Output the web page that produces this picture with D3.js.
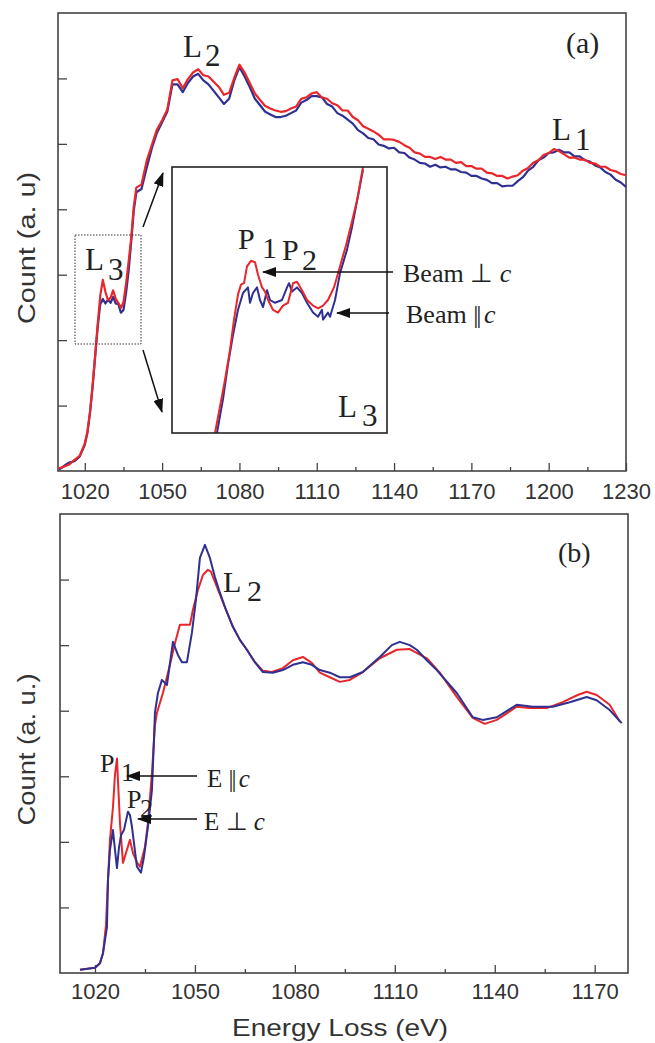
<!DOCTYPE html>
<html>
<head>
<meta charset="utf-8">
<script src="https://cdn.jsdelivr.net/npm/d3@7"></script>
<style>
  body { margin: 0; background: #fff; }
  svg text { fill: #222; }
</style>
</head>
<body>
<div id="container"></div>
<script>
// Panel (a): Ni L-edge, noisy spectra, beam perpendicular (red) / parallel (blue)
const eTop = [1010,1012,1014,1016,1018,1020,1021,1022,1023,1024,1025,1026,1027,1028,1029,1030,1031,1032,1033,1034,1035,1036,1037,1038,1039,1040,
  1042,1044,1046,1048,1050,1052,1054,1056,1058,1060,1062,1064,1066,1068,1070,1072,1074,1076,1078,1080,1082,1084,1086,1088,1090,
  1092,1094,1096,1098,1100,1102,1104,1106,1108,1110,1112,1114,1116,1118,1120,1122,1124,1126,1128,1130,1132,1134,1136,1138,1140,
  1142,1144,1146,1148,1150,1152,1154,1156,1158,1160,1162,1164,1166,1168,1170,1172,1174,1176,1178,1180,1182,1184,1186,1188,1190,
  1192,1194,1196,1198,1200,1202,1204,1206,1208,1210,1212,1214,1216,1218,1220,1222,1224,1226,1228,1230];
const redTop = [0.04,0.07,0.10,0.17,0.23,0.42,0.60,0.90,1.30,1.76,2.24,2.68,2.92,2.74,2.61,2.65,2.76,2.63,2.57,2.49,2.58,2.86,3.20,3.56,4.04,4.33,
  4.38,4.74,4.98,5.22,5.36,5.52,5.97,5.99,5.85,5.99,6.09,6.14,6.05,6.03,5.95,5.87,5.75,5.78,6.01,6.21,6.09,5.93,5.77,5.67,5.58,
  5.54,5.51,5.49,5.50,5.54,5.57,5.69,5.71,5.77,5.79,5.71,5.69,5.62,5.59,5.51,5.51,5.41,5.36,5.27,5.23,5.19,5.14,5.07,5.07,5.06,
  5.03,4.98,4.94,4.87,4.85,4.80,4.80,4.77,4.80,4.76,4.76,4.71,4.72,4.66,4.66,4.62,4.62,4.56,4.55,4.51,4.51,4.47,4.50,4.52,4.59,
  4.63,4.71,4.75,4.83,4.86,4.92,4.89,4.84,4.79,4.79,4.76,4.76,4.71,4.70,4.65,4.65,4.60,4.58,4.54,4.52];
const blueTop = [0.02,0.08,0.13,0.15,0.22,0.40,0.58,0.88,1.27,1.74,2.20,2.55,2.63,2.56,2.62,2.57,2.66,2.56,2.55,2.42,2.46,2.72,3.06,3.50,3.98,4.26,
  4.31,4.63,4.93,5.17,5.33,5.49,5.91,5.91,5.79,5.93,6.03,6.07,5.97,5.91,5.81,5.71,5.61,5.69,5.97,6.17,6.03,5.87,5.69,5.59,5.49,
  5.45,5.41,5.41,5.43,5.47,5.51,5.63,5.67,5.73,5.73,5.71,5.61,5.57,5.47,5.43,5.37,5.31,5.21,5.16,5.09,5.07,4.99,4.97,4.93,4.94,
  4.87,4.86,4.79,4.76,4.71,4.70,4.65,4.68,4.64,4.65,4.61,4.61,4.57,4.56,4.51,4.51,4.47,4.45,4.40,4.40,4.35,4.36,4.36,4.43,4.49,
  4.59,4.65,4.75,4.79,4.86,4.87,4.91,4.87,4.87,4.81,4.81,4.75,4.73,4.67,4.64,4.57,4.53,4.45,4.41,4.34];

// Inset: zoom on the L3 edge
const eInsetRed = [1022.80,1023.36,1023.92,1024.47,1024.92,1025.37,1025.70,1026.04,1026.37,1026.82,1027.27,1027.60,1028.05,1028.38,1028.72,
  1029.27,1029.83,1030.39,1030.95,1031.51,1031.95,1032.51,1033.07,1033.74,1034.30,1034.86,1035.41,1036.08,1036.75,1037.42,1038.09,1038.65,1039.32];
const insetRed = [1.90,2.09,2.28,2.49,2.71,2.89,2.96,2.97,3.09,3.13,3.12,3.03,2.94,2.91,2.85,
  2.78,2.76,2.81,2.83,2.97,2.98,2.92,2.85,2.81,2.79,2.81,2.85,2.94,3.09,3.24,3.41,3.56,3.80];
const eInsetBlue = [1023.02,1023.69,1024.25,1024.81,1025.37,1025.93,1026.48,1026.71,1027.04,1027.49,1027.82,1028.16,1028.61,1028.94,1029.50,
  1030.28,1030.84,1031.06,1031.40,1031.95,1032.51,1033.07,1033.74,1034.30,1034.74,1034.86,1035.41,1035.64,1036.20,1036.75,1037.54,1038.09,1038.76,1039.32];
const insetBlue = [1.90,2.14,2.39,2.60,2.78,2.90,2.94,2.83,2.90,2.94,2.85,2.80,2.92,2.85,2.83,
  2.85,2.94,2.97,2.91,2.94,2.90,2.83,2.76,2.73,2.78,2.71,2.76,2.73,2.85,3.04,3.21,3.37,3.59,3.78];

// Panel (b): calculated spectra, E || c (red) / E perp c (blue)
const eRedB = [1015.5,1020,1021.5,1022.4,1023.3,1023.9,1024.5,1025.4,1026,1026.6,1026.9,1027.5,1028.4,1029.6,1030.5,1031.4,1032.6,1033.5,
  1035,1035.9,1037.1,1038,1038.6,1040.4,1042.5,1044,1045.5,1048.5,1049.4,1050.9,1052.4,1053.9,1054.8,1056.6,1059,1061.4,1063.5,1065.6,
  1068,1070.4,1073.1,1076.4,1079.4,1082.4,1085.1,1087.5,1090.5,1093.5,1096.5,1100.4,1105.5,1110.6,1114.5,1119.6,1123.5,1128.6,1133.4,
  1137,1140.6,1146.6,1150.5,1155.6,1160.4,1164.9,1167.6,1170.6,1174.5,1177.5];
const redB = [0.05,0.08,0.15,0.30,0.73,1.42,2.03,2.53,3.02,3.27,2.94,2.29,1.68,1.88,2.03,1.83,1.69,1.62,
  1.92,2.29,3.05,3.78,3.97,4.27,4.70,5.03,5.31,5.31,5.54,5.84,6.07,6.15,6.12,5.89,5.58,5.28,5.08,4.93,
  4.74,4.61,4.59,4.65,4.77,4.82,4.73,4.58,4.51,4.44,4.47,4.59,4.80,4.93,4.94,4.80,4.58,4.21,3.89,
  3.80,3.86,4.06,4.04,4.04,4.13,4.24,4.29,4.24,4.09,3.84];
const eBlueB = [1015.5,1020,1021.5,1022.4,1023.6,1023.9,1024.5,1025.4,1026,1026.6,1027.2,1027.8,1028.7,1029.9,1030.5,1031.1,1032.6,1033.8,
  1034.7,1035.9,1037.1,1037.7,1038,1038.9,1040.1,1041.6,1043.4,1044.9,1046.1,1047.6,1049.1,1050.3,1051.5,1053,1054.5,1056,1057.5,1059.3,
  1061.4,1063.5,1065.6,1068,1070.4,1073.4,1076.4,1079.4,1082.4,1085.1,1087.5,1090.5,1093.5,1096.5,1100.4,1105.5,1109.1,1111.5,1114.5,
  1116.6,1119.6,1122.6,1128.6,1133.4,1136.4,1140.6,1146.6,1151.4,1157.4,1162.5,1167.6,1170.6,1174.5,1178.1];
const blueB = [0.05,0.08,0.15,0.30,0.70,1.42,1.88,2.18,1.88,1.60,1.91,2.10,2.18,2.46,2.41,2.23,1.62,1.53,
  1.77,2.23,2.79,3.55,3.97,4.27,4.47,4.39,5.05,4.85,4.74,4.74,5.19,5.69,6.33,6.53,6.33,6.04,5.80,5.54,
  5.28,5.08,4.93,4.74,4.59,4.58,4.62,4.70,4.74,4.70,4.62,4.58,4.51,4.51,4.59,4.82,5.00,5.05,5.00,
  4.93,4.77,4.62,4.27,3.90,3.86,3.90,4.09,4.06,4.06,4.13,4.21,4.16,4.01,3.81];

const majorTop = [1020,1050,1080,1110,1140,1170,1200,1230];
const minorTop = [1035,1065,1095,1125,1155,1185,1215];
const majorBot = [1020,1050,1080,1110,1140,1170];
const minorBot = [1035,1065,1095,1125,1155];
const yTicks = [1,2,3,4,5,6];

const RED = "#e8262b";
const BLUE = "#2e3191";
const SANS = "'Liberation Sans', Arial, Helvetica, sans-serif";
const SERIF = "'Liberation Serif', 'Times New Roman', serif";

const width = 655, height = 1043;
const svg = d3.create("svg").attr("width", width).attr("height", height);

const defs = svg.append("defs");
defs.append("marker")
  .attr("id", "head")
  .attr("markerUnits", "userSpaceOnUse")
  .attr("markerWidth", 14).attr("markerHeight", 10)
  .attr("refX", 13).attr("refY", 5)
  .attr("orient", "auto")
  .append("path").attr("d", "M0,0 L14,5 L0,10 Z").attr("fill", "#111");

function panel(box, xDomain, majors, minors, labelPad, yLabel) {
  const x = d3.scaleLinear().domain(xDomain).range([box.left, box.right]);
  const y = d3.scaleLinear().domain([0, 7]).range([box.bottom, box.top]);
  const g = svg.append("g");

  g.append("g").attr("transform", `translate(0,${box.bottom})`)
    .call(d3.axisBottom(x).tickValues(minors).tickSizeInner(-4).tickSizeOuter(0).tickFormat(""));
  const ax = g.append("g").attr("transform", `translate(0,${box.bottom})`)
    .call(d3.axisBottom(x).tickValues(majors)
      .tickSizeInner(-8).tickSizeOuter(0).tickPadding(labelPad).tickFormat(d3.format("d")));
  ax.selectAll("text").attr("font-family", SANS).attr("font-size", 22).style("fill", "#333");
  g.append("g").attr("transform", `translate(${box.left},0)`)
    .call(d3.axisLeft(y).tickValues(yTicks).tickSizeInner(-9).tickSizeOuter(0).tickFormat(""));
  g.selectAll(".domain").remove();
  g.selectAll(".tick line").attr("stroke", "#444").attr("stroke-width", 1.3);

  g.append("rect")
    .attr("x", box.left).attr("y", box.top)
    .attr("width", box.right - box.left).attr("height", box.bottom - box.top)
    .attr("fill", "none").attr("stroke", "#444").attr("stroke-width", 1.6);

  g.append("text")
    .attr("transform", `translate(35,${(box.top + box.bottom) / 2 + 6}) rotate(-90)`)
    .attr("text-anchor", "middle")
    .attr("font-family", SANS).attr("font-size", 23)
    .attr("textLength", 152).attr("lengthAdjust", "spacingAndGlyphs")
    .style("fill", "#333")
    .text(yLabel);
  return { x, y, g };
}

function drawLine(g, x, y, es, vs, color, w) {
  const pts = es.map((e, i) => [e, vs[i]]);
  g.append("path").datum(pts)
    .attr("fill", "none").attr("stroke", color).attr("stroke-width", w)
    .attr("stroke-linejoin", "round")
    .attr("d", d3.line().x(d => x(d[0])).y(d => y(d[1])));
}

function label(x, y, txt, size, sub, sx, sy) {
  const t = svg.append("text").attr("x", x).attr("y", y)
    .attr("font-family", SERIF).attr("font-size", size).text(txt);
  if (sub) {
    svg.append("text").attr("x", sx).attr("y", sy)
      .attr("font-family", SERIF).attr("font-size", size).text(sub);
  }
  return t;
}

function arrow(x1, y1, x2, y2) {
  svg.append("line").attr("x1", x1).attr("y1", y1).attr("x2", x2).attr("y2", y2)
    .attr("stroke", "#111").attr("stroke-width", 1.5).attr("marker-end", "url(#head)");
}

// ---- panel (a)
const pa = panel({ left: 58, right: 626, top: 13, bottom: 471 }, [1009.6, 1230], majorTop, minorTop, 12, "Count (a. u)");
drawLine(pa.g, pa.x, pa.y, eTop, blueTop, BLUE, 2.2);
drawLine(pa.g, pa.x, pa.y, eTop, redTop, RED, 2.2);

// dotted box marking the zoomed region
svg.append("rect").attr("x", 75).attr("y", 235).attr("width", 66).attr("height", 109)
  .attr("fill", "none").attr("stroke", "#333").attr("stroke-width", 1).attr("stroke-dasharray", "1.5,1.5");
arrow(143, 227, 163, 173);
arrow(143, 350, 162, 412);

// inset
const inBox = { left: 172, right: 387, top: 167, bottom: 433 };
svg.append("rect").attr("x", inBox.left).attr("y", inBox.top)
  .attr("width", inBox.right - inBox.left).attr("height", inBox.bottom - inBox.top)
  .attr("fill", "#fff");
defs.append("clipPath").attr("id", "inclip").append("rect")
  .attr("x", inBox.left).attr("y", inBox.top)
  .attr("width", inBox.right - inBox.left).attr("height", inBox.bottom - inBox.top);
const ix = d3.scaleLinear().domain([1018, 1042]).range([inBox.left, inBox.right]);
const iy = d3.scaleLinear().domain([1.9, 3.8]).range([inBox.bottom, inBox.top]);
const inG = svg.append("g").attr("clip-path", "url(#inclip)");
drawLine(inG, ix, iy, eInsetBlue, insetBlue, BLUE, 2);
drawLine(inG, ix, iy, eInsetRed, insetRed, RED, 2);
svg.append("rect").attr("x", inBox.left).attr("y", inBox.top)
  .attr("width", inBox.right - inBox.left).attr("height", inBox.bottom - inBox.top)
  .attr("fill", "none").attr("stroke", "#222").attr("stroke-width", 1.6);

label(183, 57, "L", 31, "2", 205, 66);
label(552, 140, "L", 31, "1", 575, 150);
label(85, 270, "L", 31, "3", 108, 280);
label(566, 53, "(a)", 30);
label(238, 249, "P", 30, "1", 262, 258);
label(282, 260, "P", 30, "2", 302, 270);
label(338, 417, "L", 31, "3", 362, 426);

const bp = label(403, 282, "Beam \u22A5 ", 26);
bp.append("tspan").attr("font-style", "italic").text("c");
const bl = label(406, 323, "Beam ", 26);
bl.append("tspan").attr("letter-spacing", -2).text("|| ");
bl.append("tspan").attr("font-style", "italic").text("c");
arrow(393, 272, 263, 272);
arrow(389, 313, 337, 313);

// ---- panel (b)
const pb = panel({ left: 60, right: 628, top: 514, bottom: 973 }, [1009.5, 1180], majorBot, minorBot, 10, "Count (a. u.)");
drawLine(pb.g, pb.x, pb.y, eRedB, redB, RED, 2);
drawLine(pb.g, pb.x, pb.y, eBlueB, blueB, BLUE, 2);

svg.append("text").attr("x", 340).attr("y", 1036)
  .attr("text-anchor", "middle")
  .attr("font-family", SANS).attr("font-size", 24)
  .attr("textLength", 216).attr("lengthAdjust", "spacingAndGlyphs")
  .style("fill", "#333")
  .text("Energy Loss (eV)");

label(558, 562, "(b)", 28);
label(223, 592, "L", 30, "2", 247, 601);
label(100, 772, "P", 26, "1", 121, 781);
label(127, 808, "P", 26, "2", 140, 817);

const e1 = label(207, 787, "E ", 25);
e1.append("tspan").attr("letter-spacing", -2).text("|| ");
e1.append("tspan").attr("font-style", "italic").text("c");
const e2 = label(204, 830, "E \u22A5 ", 25);
e2.append("tspan").attr("font-style", "italic").text("c");
arrow(197, 776, 127, 776);
arrow(197, 819, 138, 819);

document.getElementById("container").append(svg.node());
</script>
</body>
</html>
